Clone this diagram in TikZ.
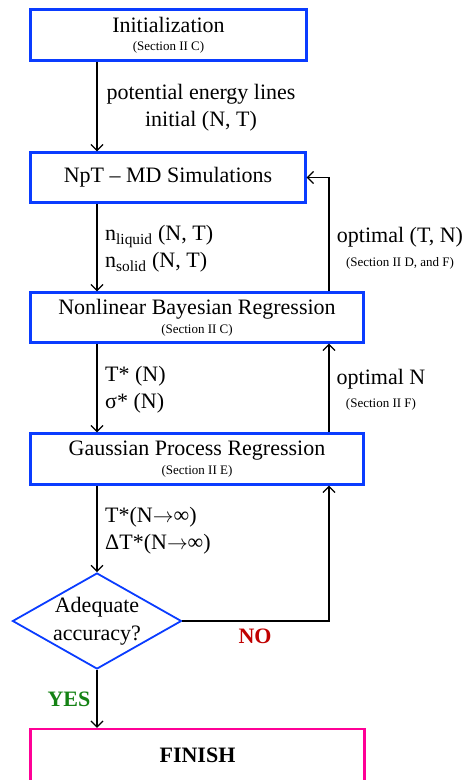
\documentclass[tikz,border=0pt]{standalone}
\usepackage{fontspec}
\setmainfont{Liberation Serif}
\usetikzlibrary{shapes.geometric, arrows.meta}

\definecolor{boxblue}{RGB}{10,60,255}
\definecolor{finishpink}{RGB}{255,0,150}
\definecolor{noRed}{RGB}{192,0,0}
\definecolor{yesGreen}{RGB}{20,130,20}

\newcommand{\secnote}[1]{{\fontsize{13}{15}\selectfont #1}}
\newcommand{\toinf}{(N$\rightarrow$∞)}

\tikzset{
  stagebox/.style={rectangle, draw=boxblue, line width=2.4pt, align=center,
    inner sep=0pt, font=\fontsize{22}{18.5}\selectfont},
  finishbox/.style={rectangle, draw=finishpink, line width=2.4pt,
    inner sep=0pt, font=\fontsize{22}{26}\selectfont\bfseries},
  decision/.style={diamond, draw=boxblue, line width=1.8pt, align=center,
    inner sep=-6pt, aspect=1.76, font=\fontsize{22}{28}\selectfont},
  flow/.style={-{Straight Barb[length=6pt, width=12pt]}, line width=1.2pt},
  lbl/.style={font=\fontsize{22}{27}\selectfont, inner sep=0pt},
}

\begin{document}
\begin{tikzpicture}[x=1pt, y=-1pt]
  \useasboundingbox (0,0) rectangle (466,780);

  % main column of stages
  \node[stagebox, minimum width=276, minimum height=51] (init) at (168.5,35)
    {Initialization\\\secnote{(Section II C)}};
  \node[stagebox, minimum width=275, minimum height=50] (npt) at (168,177.5)
    {NpT -- MD Simulations};
  \node[stagebox, minimum width=333, minimum height=50] (nbr) at (197,317.5)
    {Nonlinear Bayesian Regression\\\secnote{(Section II C)}};
  \node[stagebox, minimum width=333, minimum height=51] (gpr) at (197,459)
    {Gaussian Process Regression\\\secnote{(Section II E)}};
  \node[decision, minimum width=169, minimum height=96] (dec) at (97,621)
    {Adequate\\accuracy?};
  \node[finishbox, minimum width=334, minimum height=52] (finish) at (197.5,755)
    {FINISH};

  % return rail on the right
  \coordinate (rail) at (329,0);

  % downward flow
  \draw[flow] (init.south -| dec) -- (npt.north -| dec);
  \draw[flow] (npt.south -| dec) -- (nbr.north -| dec);
  \draw[flow] (nbr.south -| dec) -- (gpr.north -| dec);
  \draw[flow] (gpr.south -| dec) -- (dec.north);
  \draw[flow] (dec.south) -- (finish.north -| dec);

  % feedback loops
  \draw[flow] (nbr.north -| rail) |- (npt.east);
  \draw[flow] (gpr.north -| rail) -- (nbr.south -| rail);
  \draw[flow] (dec.east) -| (gpr.south -| rail);

  % labels on the connectors
  \node[lbl, align=center] (pelbl) at (201,108)
    {potential energy lines\\initial (N, T)};
  \node[lbl, anchor=west, align=left] (nlbl) at (105,249)
    {n\textsubscript{liquid} (N, T)\\n\textsubscript{solid} (N, T)};
  \node[lbl, anchor=west, align=left] (tlbl) at (105,389.5)
    {T* (N)\\σ* (N)};
  \node[lbl, anchor=west, align=left] (dlbl) at (105,531)
    {T*\toinf\\ΔT*\toinf};
  \node[lbl, align=center] (optTN) at (400,248)
    {optimal (T, N)\\[-3pt]\secnote{(Section II D, and F)}};
  \node[lbl, align=center] (optN) at (381,390)
    {optimal N\\[-4pt]\secnote{(Section II F)}};

  % decision outcomes
  \node[lbl, noRed, font=\fontsize{22}{26}\selectfont\bfseries] (nolbl) at (255,636) {NO};
  \node[lbl, yesGreen, font=\fontsize{22}{26}\selectfont\bfseries] (yeslbl) at (69,699) {YES};
\end{tikzpicture}
\end{document}
